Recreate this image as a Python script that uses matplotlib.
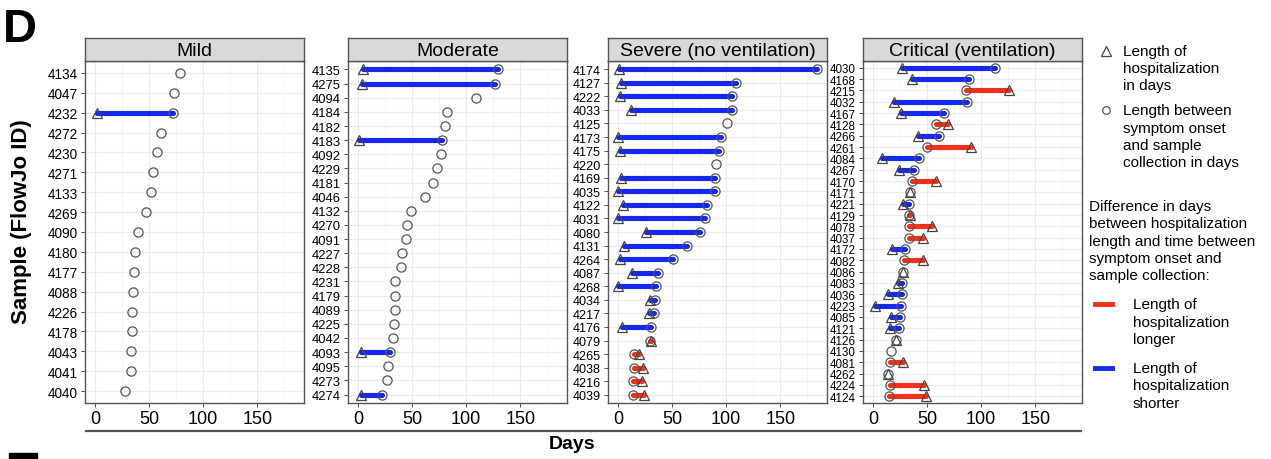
import matplotlib
matplotlib.use("Agg")
import matplotlib.pyplot as plt
from matplotlib.lines import Line2D
from matplotlib.patches import Rectangle

plt.rcParams['font.family'] = ['Liberation Sans', 'DejaVu Sans']

# ---------------- data (days) ----------------
# rows listed top to bottom; None = no hospitalization recorded
mild_ids = ["4134", "4047", "4232", "4272", "4230", "4271", "4133", "4269", "4090",
            "4180", "4177", "4088", "4226", "4178", "4043", "4041", "4040"]
mild_onset = [79, 73, 72, 61, 57, 54, 52, 47, 40, 37, 36, 35, 34, 34, 33, 33, 28]
mild_hosp = [None, None, 2, None, None, None, None, None, None,
             None, None, None, None, None, None, None, None]

moderate_ids = ["4135", "4275", "4094", "4184", "4182", "4183", "4092", "4229", "4181",
                "4046", "4132", "4270", "4091", "4227", "4228", "4231", "4179", "4089",
                "4225", "4042", "4093", "4095", "4273", "4274"]
moderate_onset = [129, 127, 109, 82, 80, 78, 77, 73, 69, 62, 49, 45, 44, 41, 40, 34, 34, 34,
                  33, 32, 30, 28, 27, 22]
moderate_hosp = [5, 4, None, None, None, 1, None, None, None, None, None, None, None, None,
                 None, None, None, None, None, None, 3, None, None, 3]

severe_ids = ["4174", "4127", "4222", "4033", "4125", "4173", "4175", "4220", "4169",
              "4035", "4122", "4031", "4080", "4131", "4264", "4087", "4268", "4034",
              "4217", "4176", "4079", "4265", "4038", "4216", "4039"]
severe_onset = [184, 109, 105, 105, 101, 95, 93, 91, 90, 90, 82, 80, 76, 64, 51, 37, 35, 34,
                33, 31, 30, 15, 15, 14, 14]
severe_hosp = [1, 3, 2, 12, None, 0, 2, None, 3, 0, 5, 0, 26, 6, 2, 13, 0, 30,
               29, 4, 31, 19, 23, 22, 24]

critical_ids = ["4030", "4168", "4215", "4032", "4167", "4128", "4266", "4261", "4084",
                "4267", "4170", "4171", "4221", "4129", "4078", "4037", "4172", "4082",
                "4086", "4083", "4036", "4223", "4085", "4121", "4126", "4130", "4081",
                "4262", "4224", "4124"]
critical_onset = [113, 89, 86, 87, 66, 58, 61, 50, 43, 38, 36, 34, 33, 33, 33, 33, 30, 29,
                  28, 27, 27, 26, 25, 24, 21, 17, 16, 14, 16, 15]
critical_hosp = [27, 36, 126, 19, 26, 69, 42, 91, 8, 24, 58, 34, 28, 34, 55, 46, 18, 46,
                 28, 23, 14, 2, 17, 16, 21, None, 28, 14, 47, 49]

panel_titles = ["Mild", "Moderate", "Severe (no ventilation)", "Critical (ventilation)"]
x_ticks = [0, 50, 100, 150]

# ---------------- styling ----------------
BLUE = "#1428F0"
RED = "#F5301A"
W, H = 1271, 460
fig = plt.figure(figsize=(W / 100, H / 100), dpi=100)


def fx(px):
    return px / W


def fy(py):
    return 1 - py / H


panel_left = [85, 348, 608, 863]
panel_width = 219
strip_top, plot_top, plot_bottom = 39, 62, 404
label_sizes = [9.8, 9.4, 9.1, 8.4]

groups = [
    (mild_ids, mild_onset, mild_hosp),
    (moderate_ids, moderate_onset, moderate_hosp),
    (severe_ids, severe_onset, severe_hosp),
    (critical_ids, critical_onset, critical_hosp),
]

all_vals = [v for g in groups for v in g[1]] + [v for g in groups for v in g[2] if v is not None]
xmin, xmax = min(all_vals), max(all_vals)
pad = 0.05 * (xmax - xmin)

for k, ((ids, onset, hosp), title) in enumerate(zip(groups, panel_titles)):
    left = panel_left[k]
    ax = fig.add_axes([fx(left), fy(plot_bottom), panel_width / W,
                       (plot_bottom - plot_top) / H])
    n = len(ids)
    ys = [n - 1 - i for i in range(n)]
    for y, o, h in zip(ys, onset, hosp):
        if h is not None and h != o:
            col = RED if h > o else BLUE
            ax.plot([o, h], [y, y], color=col, lw=3.7, solid_capstyle='round', zorder=2)
    ax.plot(onset, ys, 'o', mfc='none', mec='#555555', ms=6.6, mew=0.9, ls='none', zorder=3)
    hx = [h for h in hosp if h is not None]
    hy = [y for y, h in zip(ys, hosp) if h is not None]
    ax.plot(hx, hy, '^', mfc='none', mec='#444444', ms=7.2, mew=0.9, ls='none', zorder=4)

    ax.set_xlim(xmin - pad, xmax + pad)
    ax.set_ylim(-0.6, n - 0.4)
    ax.set_yticks(ys)
    ax.set_yticklabels(ids, fontsize=label_sizes[k], color='black')
    ax.set_xticks(x_ticks)
    ax.set_xticklabels([str(t) for t in x_ticks], fontsize=13, color='black')
    ax.set_xticks([25, 75, 125, 175], minor=True)
    ax.tick_params(axis='both', which='major', length=3, width=0.6, color='#333333', pad=2)
    ax.tick_params(axis='x', which='minor', length=0)
    ax.grid(True, which='major', color='#EBEBEB', lw=0.8, zorder=0)
    ax.grid(True, which='minor', axis='x', color='#F2F2F2', lw=0.5, zorder=0)
    ax.set_axisbelow(True)
    for s in ax.spines.values():
        s.set_color('#555555')
        s.set_linewidth(1.0)

    strip = fig.add_axes([fx(left), fy(plot_top), panel_width / W, (plot_top - strip_top) / H])
    strip.set_facecolor('#D9D9D9')
    strip.set_xticks([])
    strip.set_yticks([])
    for s in strip.spines.values():
        s.set_color('#555555')
        s.set_linewidth(1.0)
    strip.text(0.5, 0.45, title, ha='center', va='center', fontsize=14,
               transform=strip.transAxes)

# shared x-axis title and rule
fig.add_artist(Line2D([fx(86), fx(1081)], [fy(432), fy(432)], color='#555555', lw=1.6))
fig.text(fx(572), fy(445), "Days", ha='center', va='center', fontsize=14, fontweight='bold')
fig.text(fx(22), fy(222), "Sample (FlowJo ID)", ha='center', va='center', rotation=90,
         fontsize=16, fontweight='bold')
fig.text(fx(3), fy(42), "D", ha='left', va='baseline', fontsize=34, fontweight='bold')
# top stroke of the next panel's letter peeking in at the bottom edge
fig.add_artist(Rectangle((fx(9), 0), fx(37) - fx(9), fy(454), color='black',
                         transform=fig.transFigure))

# ---------------- legend ----------------
leg_fs = 11
fig.add_artist(Line2D([fx(1106)], [fy(52)], marker='^', mfc='none', mec='#444444', ms=7,
                      mew=0.9, ls='none', transform=fig.transFigure))
for i, line in enumerate(["Length of", "hospitalization", "in days"]):
    fig.text(fx(1123), fy(52 + 17 * i), line, va='center', fontsize=leg_fs)
fig.add_artist(Line2D([fx(1106)], [fy(111)], marker='o', mfc='none', mec='#555555', ms=5.5,
                      mew=0.9, ls='none', transform=fig.transFigure))
for i, line in enumerate(["Length between", "symptom onset", "and sample",
                          "collection in days"]):
    fig.text(fx(1123), fy(111 + 17.5 * i), line, va='center', fontsize=leg_fs)
for i, line in enumerate(["Difference in days", "between hospitalization",
                          "length and time between", "symptom onset and",
                          "sample collection:"]):
    fig.text(fx(1089), fy(207 + 17.3 * i), line, va='center', fontsize=leg_fs)
for y0, col, last in [(305, RED, "longer"), (369, BLUE, "shorter")]:
    fig.add_artist(Line2D([fx(1095), fx(1112)], [fy(y0), fy(y0)], color=col, lw=3.5))
    for i, line in enumerate(["Length of", "hospitalization", last]):
        fig.text(fx(1133), fy(y0 + 17.5 * i), line, va='center', fontsize=leg_fs)

fig.savefig("out.png", dpi=100)
